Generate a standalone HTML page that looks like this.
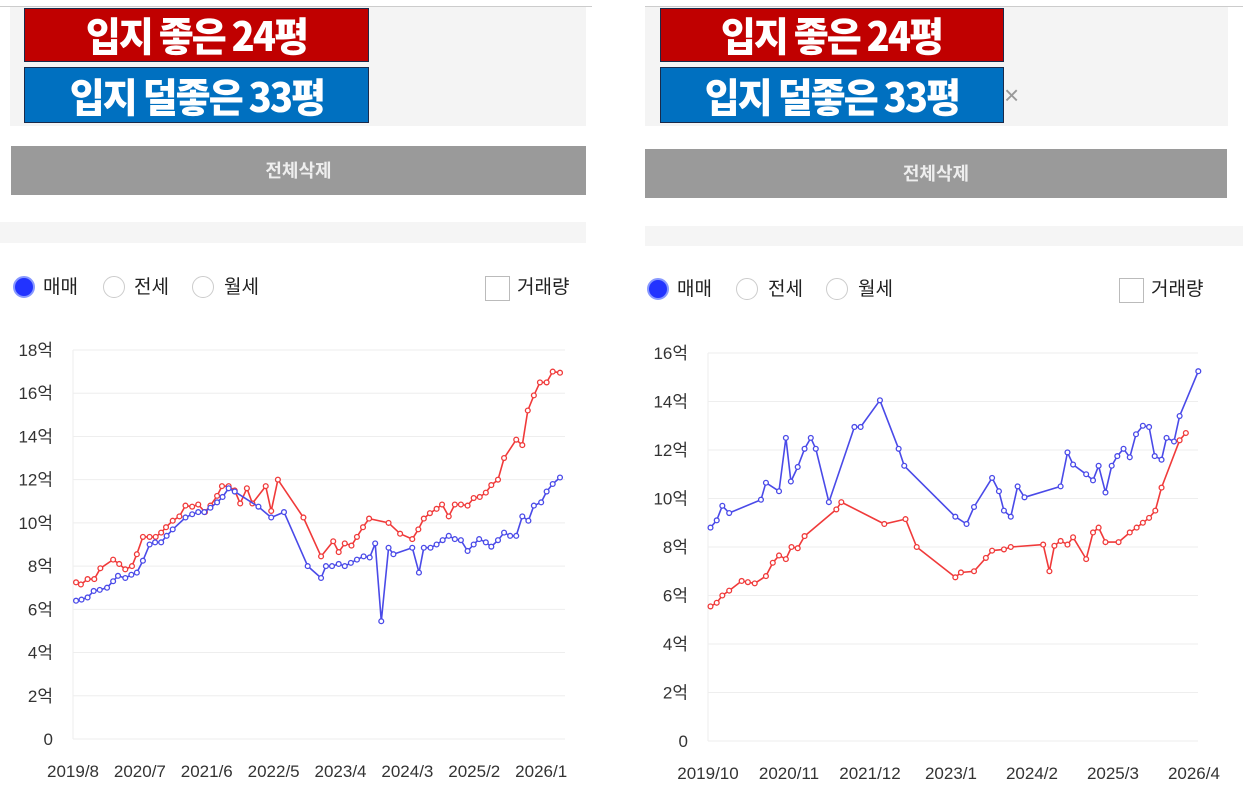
<!DOCTYPE html>
<html><head><meta charset="utf-8">
<style>
body{margin:0;width:1243px;height:805px;background:#fff;position:relative;overflow:hidden;font-family:"Liberation Sans","Noto Sans CJK KR",sans-serif;}
.abs{position:absolute;}
.gbox{background:#f4f4f4;}
.banner{color:#fff;font-weight:900;font-size:40px;text-align:center;line-height:50px;border:1px solid #1a2a4a;box-sizing:border-box;letter-spacing:-2px;font-family:"Noto Sans CJK KR",sans-serif;white-space:nowrap;}
.banner span{display:inline-block;transform:scaleX(0.95);}
.red{background:#c00000;}
.blue{background:#0070c0;}
.btn{background:#9a9a9a;color:#eee;font-size:18px;font-weight:bold;text-align:center;line-height:48px;font-family:"Noto Sans CJK KR",sans-serif;}
.strip{background:#f5f5f5;}
.radio{width:22px;height:22px;border-radius:50%;border:1px solid #ccc;box-sizing:border-box;background:#fff;}
.radio.on{background:#2233ff;border:2px solid #8899ff;}
.lbl{font-size:19px;color:#222;font-family:"Noto Sans CJK KR",sans-serif;line-height:24px;}
.chk{width:25px;height:25px;border:1px solid #bbb;box-sizing:border-box;background:#fff;}
svg text{font-family:"Liberation Sans","Noto Sans CJK KR",sans-serif;font-size:17px;fill:#333;}
</style></head><body>
<div class="abs" style="left:0;top:6px;width:592px;height:1px;background:#ccc"></div>
<div class="abs" style="left:645px;top:6px;width:598px;height:1px;background:#ccc"></div>

<!-- left panel -->
<div class="abs gbox" style="left:10px;top:7px;width:576px;height:119px"></div>
<div class="abs banner red" style="left:24px;top:8px;width:345px;height:54px"><span>입지 좋은 24평</span></div>
<div class="abs banner blue" style="left:24px;top:67px;width:345px;height:56px;line-height:54px"><span>입지 덜좋은 33평</span></div>
<div class="abs btn" style="left:11px;top:146px;width:575px;height:49px">전체삭제</div>
<div class="abs strip" style="left:0;top:222px;width:586px;height:21px"></div>
<div class="abs radio on" style="left:13px;top:276px"></div>
<div class="abs lbl" style="left:43px;top:274px">매매</div>
<div class="abs radio" style="left:103px;top:276px"></div>
<div class="abs lbl" style="left:134px;top:274px">전세</div>
<div class="abs radio" style="left:192px;top:276px"></div>
<div class="abs lbl" style="left:224px;top:274px">월세</div>
<div class="abs chk" style="left:485px;top:276px"></div>
<div class="abs lbl" style="left:517px;top:274px">거래량</div>

<!-- right panel -->
<div class="abs gbox" style="left:645px;top:7px;width:583px;height:119px"></div>
<div class="abs banner red" style="left:660px;top:8px;width:344px;height:54px"><span>입지 좋은 24평</span></div>
<div class="abs banner blue" style="left:660px;top:67px;width:344px;height:56px;line-height:54px"><span>입지 덜좋은 33평</span></div>
<div class="abs" style="left:1004px;top:80px;font-size:26px;color:#999;line-height:30px">×</div>
<div class="abs btn" style="left:645px;top:149px;width:582px;height:49px">전체삭제</div>
<div class="abs strip" style="left:645px;top:226px;width:598px;height:20px"></div>
<div class="abs radio on" style="left:647px;top:278px"></div>
<div class="abs lbl" style="left:677px;top:276px">매매</div>
<div class="abs radio" style="left:736px;top:278px"></div>
<div class="abs lbl" style="left:768px;top:276px">전세</div>
<div class="abs radio" style="left:826px;top:278px"></div>
<div class="abs lbl" style="left:858px;top:276px">월세</div>
<div class="abs chk" style="left:1119px;top:278px"></div>
<div class="abs lbl" style="left:1151px;top:276px">거래량</div>

<svg class="abs" style="left:0;top:0" width="1243" height="805" id="charts"></svg>

<script>
// Left chart data (month offset from 2019/8, price in 억)
const leftXTicks = ["2019/8","2020/7","2021/6","2022/5","2023/4","2024/3","2025/2","2026/1"];
const leftYTicks = [0,2,4,6,8,10,12,14,16,18];
const leftRedMonths = [0.5,1.3,2.4,3.5,4.5,6.6,7.6,8.6,9.7,10.5,11.5,12.6,13.6,14.5,15.3,16.4,17.5,18.5,19.6,20.6,21.7,22.6,23.7,24.5,25.6,26.6,27.5,28.6,29.5,31.7,32.6,33.7,37.9,40.8,42.8,43.7,44.7,45.8,46.7,47.7,48.7,51.9,53.8,55.8,56.8,57.7,58.7,59.8,60.7,61.8,62.8,63.8,64.9,65.9,66.9,67.9,68.8,69.9,70.9,72.9,73.9,74.8,75.8,76.8,77.9,78.9,80.1];
const leftRedValues = [7.25,7.15,7.4,7.4,7.9,8.3,8.1,7.85,8.0,8.55,9.35,9.35,9.35,9.55,9.8,10.1,10.3,10.8,10.75,10.85,10.5,10.8,11.25,11.7,11.7,11.5,10.9,11.6,10.9,11.7,10.55,12.0,10.25,8.45,9.15,8.65,9.05,8.95,9.35,9.8,10.2,10.0,9.5,9.25,9.7,10.2,10.45,10.65,10.85,10.3,10.85,10.85,10.8,11.15,11.2,11.4,11.75,12.0,13.0,13.85,13.6,15.2,15.9,16.5,16.5,17.0,16.95];
const leftBlueMonths = [0.5,1.4,2.4,3.4,4.4,5.6,6.6,7.4,8.6,9.6,10.5,11.5,12.6,13.5,14.5,15.4,16.4,18.5,19.6,20.6,21.6,22.6,23.7,24.6,25.6,26.6,30.5,32.6,34.7,38.6,40.8,41.6,42.6,43.7,44.7,45.7,46.7,47.8,48.8,49.7,50.7,51.9,52.7,55.8,56.9,57.7,58.8,59.8,60.8,61.8,62.8,63.8,64.9,65.9,66.8,67.9,68.8,69.9,70.9,71.9,72.9,73.9,74.9,75.8,77.0,77.9,78.9,80.1];
const leftBlueValues = [6.4,6.45,6.55,6.85,6.9,7.0,7.3,7.55,7.45,7.6,7.7,8.25,9.0,9.1,9.1,9.4,9.7,10.25,10.4,10.5,10.5,10.7,10.95,11.2,11.6,11.45,10.75,10.25,10.5,8.0,7.45,8.0,8.0,8.1,8.0,8.15,8.3,8.45,8.4,9.05,5.45,8.85,8.55,8.85,7.7,8.85,8.85,9.0,9.2,9.4,9.25,9.2,8.7,9.0,9.25,9.1,8.9,9.2,9.55,9.4,9.4,10.3,10.1,10.8,10.95,11.45,11.8,12.1];

// Right chart data (month offset from 2019/10)
const rightXTicks = ["2019/10","2020/11","2021/12","2023/1","2024/2","2025/3","2026/4"];
const rightYTicks = [0,2,4,6,8,10,12,14,16];
const rightBlueMonths = [0.4,1.4,2.3,3.4,8.5,9.3,11.4,12.5,13.3,14.4,15.5,16.5,17.3,19.4,23.5,24.5,27.6,30.6,31.5,39.7,41.5,42.7,45.6,46.7,47.5,48.6,49.7,50.8,56.6,57.7,58.6,60.7,61.8,62.7,63.8,64.8,65.7,66.7,67.7,68.7,69.8,70.8,71.7,72.8,73.6,74.8,75.7,78.7];
const rightBlueValues = [8.8,9.1,9.7,9.4,9.95,10.65,10.3,12.5,10.7,11.3,12.05,12.5,12.05,9.85,12.95,12.95,14.05,12.05,11.35,9.25,8.95,9.65,10.85,10.3,9.5,9.25,10.5,10.05,10.5,11.9,11.4,11.0,10.75,11.35,10.25,11.35,11.75,12.05,11.7,12.65,13.0,12.95,11.75,11.6,12.5,12.35,13.4,15.25];
const rightRedMonths = [0.4,1.4,2.3,3.4,5.4,6.4,7.5,9.3,10.4,11.4,12.5,13.4,14.4,15.5,20.6,21.4,28.3,31.7,33.5,39.7,40.6,42.7,44.6,45.6,47.5,48.6,53.8,54.8,55.6,56.6,57.7,58.6,60.7,61.8,62.7,63.8,65.9,67.7,68.8,69.8,70.8,71.8,72.8,75.7,76.7];
const rightRedValues = [5.55,5.7,6.0,6.2,6.6,6.55,6.5,6.8,7.35,7.65,7.5,8.0,7.95,8.45,9.55,9.85,8.95,9.15,8.0,6.75,6.95,7.0,7.55,7.85,7.9,8.0,8.1,7.0,8.05,8.25,8.1,8.4,7.5,8.6,8.8,8.2,8.2,8.6,8.8,9.0,9.2,9.5,10.45,12.4,12.7];

const svg = document.getElementById('charts');
const NS = 'http://www.w3.org/2000/svg';
function mk(tag, attrs, parent){const e=document.createElementNS(NS,tag);for(const k in attrs)e.setAttribute(k,attrs[k]);parent.appendChild(e);return e;}

function drawChart(cfg){
  const g = mk('g',{},svg);
  
  
  const yMax = cfg.yTicks[cfg.yTicks.length-1];
  const xs = m => cfg.x0 + m*cfg.pxPerMonth;
  const ys = v => cfg.yBottom - v/yMax*(cfg.yBottom-cfg.yTop);
  cfg.yTicks.forEach(t=>{
    const gl = mk('line',{x1:cfg.x0,x2:cfg.xRight,y1:ys(t),y2:ys(t),stroke:'#eeeeee','stroke-width':1},g);
    
    
    const tx = mk('text',{x:cfg.x0-20,y:ys(t)+6,'text-anchor':'end'},g);
    tx.textContent = t===0 ? '0' : t+'억';
    
    
  });
  const ax = mk('line',{x1:cfg.x0,x2:cfg.x0,y1:cfg.yTop,y2:cfg.yBottom,stroke:'#eeeeee','stroke-width':1},g);
  
  
  cfg.xTicks.forEach((t,i)=>{
    const tx = mk('text',{x:xs(i*cfg.tickStep),y:cfg.yBottom+38,'text-anchor':'middle'},g);
    tx.textContent = t;
    
    
  });
  cfg.series.forEach(s=>{
    const pts = s.m.map((m,i)=>xs(m).toFixed(1)+','+ys(s.v[i]).toFixed(1)).join(' ');
    const pl = mk('polyline',{points:pts,fill:'none',stroke:s.color,'stroke-width':1.6,'stroke-linejoin':'round'},g);
    
    
    s.m.forEach((m,i)=>{
      const c = mk('circle',{cx:xs(m),cy:ys(s.v[i]),r:2.4,fill:'#fff',stroke:s.color,'stroke-width':1.3},g);
      
      
    });
  });
}

drawChart({name:'left-price-chart',x0:73,xRight:565,pxPerMonth:6.08,yTop:350,yBottom:739,tickStep:11,
  xTicks:leftXTicks,yTicks:leftYTicks,
  series:[{name:'red-24',m:leftRedMonths,v:leftRedValues,color:'#f03a3a'},{name:'blue-33',m:leftBlueMonths,v:leftBlueValues,color:'#4a4ae8'}]});
drawChart({name:'right-price-chart',x0:708,xRight:1198,pxPerMonth:6.23,yTop:353,yBottom:741,tickStep:13,
  xTicks:rightXTicks,yTicks:rightYTicks,
  series:[{name:'blue-33',m:rightBlueMonths,v:rightBlueValues,color:'#4a4ae8'},{name:'red-24',m:rightRedMonths,v:rightRedValues,color:'#f03a3a'}]});
</script>
</body></html>
